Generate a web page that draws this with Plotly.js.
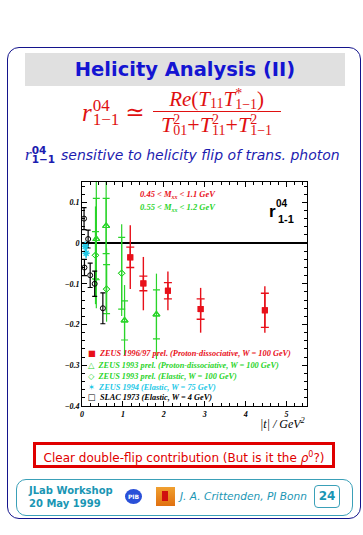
<!DOCTYPE html>
<html><head><meta charset="utf-8">
<script src="https://cdn.plot.ly/plotly-3.0.1.min.js"></script>
<style>
html,body{margin:0;padding:0;background:#fff;width:363px;height:535px;overflow:hidden;position:relative;}
.abs{position:absolute;}
#frame{left:7px;top:47px;width:354px;height:472px;border:1.5px solid #14148c;border-radius:12px;box-sizing:border-box;}
#titlebox{left:25px;top:53px;width:320px;height:33px;background:#e0e0e0;color:#1414d2;font:bold 19.5px 'DejaVu Sans',sans-serif;text-align:center;line-height:33px;}
#formula{left:82px;top:88px;color:#e01010;font-family:'Liberation Serif','DejaVu Serif',serif;display:flex;align-items:center;}
.ss{display:inline-flex;flex-direction:column;vertical-align:middle;}
.frac{display:inline-flex;flex-direction:column;align-items:center;}
#sub{left:25px;top:145px;width:335px;color:#1c1cb0;font:oblique 14px 'DejaVu Sans',sans-serif;white-space:nowrap;display:flex;align-items:center;}
#redbox{left:33px;top:442px;width:302px;height:26px;border:3px solid #e00000;box-sizing:border-box;color:#e00000;font:12px 'DejaVu Sans',sans-serif;text-align:center;line-height:20px;white-space:nowrap;}
#footer{left:16px;top:479px;width:337px;height:37px;border:1.5px solid #3aa0b8;border-radius:10px;box-sizing:border-box;}
.teal{color:#1a96b4;}
#chart{left:0;top:170px;width:363px;height:270px;}
.sm{font-size:14px;line-height:11px;}
</style></head>
<body>
<div id="frame" class="abs"></div>
<div id="titlebox" class="abs">Helicity Analysis (II)</div>
<div id="formula" class="abs">
  <span style="font-style:italic;font-size:25px;line-height:26px;">r</span>
  <span class="ss" style="font-size:17px;line-height:14px;margin-left:1px;"><span>04</span><span>1−1</span></span>
  <span style="font-size:23px;margin:0 8px 0 6px;">≃</span>
  <span class="frac">
    <span style="font-size:21px;line-height:20px;height:22px;display:flex;align-items:center;"><i>Re</i>(<i>T</i><span style="font-size:14px;margin-top:9px;">11</span><i>T</i><span class="ss sm"><span>*</span><span>1−1</span></span>)</span>
    <span style="border-top:1.2px solid #e01010;width:128px;height:0;margin:1px 0;"></span>
    <span style="font-size:22px;line-height:20px;height:24px;display:flex;align-items:center;"><i>T</i><span class="ss sm"><span>2</span><span>01</span></span>+<i>T</i><span class="ss sm"><span>2</span><span>11</span></span>+<i>T</i><span class="ss sm"><span>2</span><span>1−1</span></span></span>
  </span>
</div>
<div id="sub" class="abs"><span style="font-family:'Liberation Serif',serif;font-style:italic;font-size:17px;">r</span><span class="ss" style="font:bold 10.5px 'DejaVu Sans',sans-serif;line-height:9px;margin-right:6px;"><span>04</span><span>1−1</span></span>sensitive to helicity flip of trans. photon</div>
<div id="chart" class="abs"></div>
<div id="redbox" class="abs">Clear double-flip contribution (But is it the <i>ρ</i><sup style="font-size:8px;">0</sup>?)</div>
<div id="footer" class="abs"></div>
<div class="abs teal" style="left:29px;top:484px;font:bold 10px 'DejaVu Sans',sans-serif;line-height:13px;">JLab Workshop<br>20 May 1999</div>
<div class="abs" style="left:125px;top:489px;width:17px;height:15px;border-radius:50%;background:#2a50d8;color:#fff;font:bold 6px 'DejaVu Sans',sans-serif;text-align:center;line-height:15px;">PIB</div>
<div class="abs" style="left:156px;top:487px;width:19px;height:19px;background:linear-gradient(#f0a030,#e07010);"><div style="position:absolute;left:6px;top:4px;width:6px;height:10px;background:#d01010;"></div></div>
<div class="abs teal" style="left:180px;top:490px;font:oblique 10.6px 'DejaVu Sans',sans-serif;">J. A. Crittenden, PI Bonn</div>
<div class="abs teal" style="left:314px;top:485px;width:26px;height:23px;border:1.5px solid #3aa0b8;border-radius:4px;box-sizing:border-box;font:bold 12px 'DejaVu Sans',sans-serif;text-align:center;line-height:20px;">24</div>
<script>
// ZEUS 1996/97 prel. (proton-dissociative)
const redT = [1.18, 1.50, 2.10, 2.90, 4.47];
const redR = [-0.035, -0.099, -0.117, -0.162, -0.165];
const redStat = [0.025, 0.018, 0.020, 0.025, 0.042];
const redTotUp = [0.079, 0.065, 0.047, 0.052, 0.059];
const redTotDn = [0.078, 0.066, 0.048, 0.058, 0.055];
// ZEUS 1993 prel. (proton-dissociative)
const pdT = [0.35, 0.59, 1.04, 1.82];
const pdR = [0.010, 0.042, -0.190, -0.175];
const pdStat = [0.100, 0.068, 0.048, 0.060];
const pdTotUp = [0.25, 0.22, 0.087, 0.100];
const pdTotDn = [0.17, 0.21, 0.085, 0.110];
// ZEUS 1993 prel. (elastic)
const elT = [0.33, 0.60, 0.97];
const elR = [-0.030, -0.113, -0.074];
const elStat = [0.058, 0.060, 0.088];
const elTotUp = [0.12, 0.10, 0.12];
const elTotDn = [0.12, 0.08, 0.105];
// ZEUS 1994 (elastic)
const cyT = [0.08, 0.10];
const cyR = [-0.008, -0.025];
const cyErr = [0.012, 0.012];
// SLAC 1973 (elastic)
const slT = [0.05, 0.06, 0.15, 0.20, 0.31, 0.51];
const slR = [0.060, -0.060, 0.010, -0.079, -0.100, -0.160];
const slErr = [0.027, 0.020, 0.022, 0.030, 0.031, 0.038];

const legendLabels = [
 'ZEUS 1996/97 prel. (Proton-dissociative, W = 100 GeV)',
 'ZEUS 1993 prel. (Proton-dissociative, W = 100 GeV)',
 'ZEUS 1993 prel. (Elastic, W = 100 GeV)',
 'ZEUS 1994 (Elastic, W = 75 GeV)',
 'SLAC 1973 (Elastic, W = 4 GeV)'];
const legendSymbols = ['■','△','◇','✶','□'];
const cRed='#e8101a', cGreen='#2ad42a', cCyan='#22c8e6', cBlack='#000000';
const legendColors = [cRed,cGreen,cGreen,cCyan,cBlack];

function eb(up,dn,w,color,th){return {type:'data',symmetric:false,array:up,arrayminus:dn,width:w,color:color,thickness:th||1.2};}
const traces = [
 {x:pdT,y:pdR,mode:'markers',marker:{symbol:'triangle-up-open',size:6,color:cGreen,line:{width:1.2}},error_y:eb(pdTotUp,pdTotDn,0,cGreen)},
 {x:pdT,y:pdR,mode:'markers',marker:{symbol:'triangle-up-open',size:6,color:cGreen,line:{width:1.2}},error_y:eb(pdStat,pdStat,3.5,cGreen)},
 {x:elT,y:elR,mode:'markers',marker:{symbol:'diamond-open',size:5,color:cGreen,line:{width:1}},error_y:eb(elTotUp,elTotDn,0,cGreen)},
 {x:elT,y:elR,mode:'markers',marker:{symbol:'diamond-open',size:5,color:cGreen,line:{width:1}},error_y:eb(elStat,elStat,3.5,cGreen)},
 {x:redT,y:redR,mode:'markers',marker:{symbol:'square',size:6,color:cRed},error_y:eb(redTotUp,redTotDn,0,cRed,1.4)},
 {x:redT,y:redR,mode:'markers',marker:{symbol:'square',size:6,color:cRed},error_y:eb(redStat,redStat,4,cRed,1.4)},
 {x:slT,y:slR,mode:'markers',marker:{symbol:'circle-open',size:5,color:cBlack,line:{width:1}},error_y:eb(slErr,slErr,2.5,cBlack)},
 {x:cyT,y:cyR,mode:'markers',marker:{symbol:'asterisk-open',size:6,color:cCyan,line:{width:1.5,color:cCyan}},error_y:eb(cyErr,cyErr,0,cCyan,1.5)}
];
traces.forEach(t=>{t.type='scatter';t.showlegend=false;t.hoverinfo='skip';});

const serif='Liberation Serif, DejaVu Serif, serif';
const ann = [];
const legY=[0.237,0.184,0.135,0.086,0.040];
legendLabels.forEach((s,i)=>{
  ann.push({xref:'paper',yref:'paper',x:0.018,y:legY[i],xanchor:'left',yanchor:'middle',showarrow:false,
    text:'<span style="font-family:DejaVu Sans;font-style:normal">'+legendSymbols[i]+'</span>  '+s,
    font:{family:serif,size:8.3,color:legendColors[i],style:'italic',weight:'bold'}});
});
ann.push({xref:'paper',yref:'paper',x:0.249,y:0.942,xanchor:'left',yanchor:'middle',showarrow:false,
  text:'0.45 < M<sub>xx</sub> < 1.1 GeV',font:{family:serif,size:8.5,color:cRed,style:'italic',weight:'bold'}});
ann.push({xref:'paper',yref:'paper',x:0.249,y:0.884,xanchor:'left',yanchor:'middle',showarrow:false,
  text:'0.55 < M<sub>xx</sub> < 1.2 GeV',font:{family:serif,size:8.5,color:cGreen,style:'italic',weight:'bold'}});
ann.push({xref:'paper',yref:'paper',x:0.891,y:0.906,xanchor:'center',yanchor:'middle',showarrow:false,
  text:'04',font:{family:'Liberation Sans, Arial, sans-serif',size:10,color:'#000',weight:'bold'}});
ann.push({xref:'paper',yref:'paper',x:0.845,y:0.870,xanchor:'center',yanchor:'middle',showarrow:false,
  text:'r',font:{family:'Liberation Sans, Arial, sans-serif',size:17,color:'#000',weight:'bold'}});
ann.push({xref:'paper',yref:'paper',x:0.908,y:0.833,xanchor:'center',yanchor:'middle',showarrow:false,
  text:'1-1',font:{family:'Liberation Sans, Arial, sans-serif',size:11,color:'#000',weight:'bold'}});
ann.push({xref:'paper',yref:'paper',x:0.893,y:-0.08,xanchor:'center',yanchor:'middle',showarrow:false,
  text:'|t| / GeV<sup>2</sup>',font:{family:serif,size:12,color:'#000',style:'italic'}});

const tickfont={family:serif,size:8,color:'#000',style:'italic',weight:'bold'};
const layout={
  width:363,height:270,margin:{l:82,r:56,t:12,b:34},
  paper_bgcolor:'rgba(0,0,0,0)',plot_bgcolor:'#fff',
  xaxis:{range:[0,5.5],dtick:1,tick0:0,ticks:'inside',ticklen:5,tickcolor:'#000',showline:true,linecolor:'#000',linewidth:1,mirror:'allticks',
    showgrid:false,zeroline:false,tickfont:tickfont,minor:{dtick:0.2,ticks:'inside',ticklen:3,tickcolor:'#000',showgrid:false}},
  yaxis:{range:[-0.4,0.15],dtick:0.1,tick0:0,ticks:'inside',ticklen:5,tickcolor:'#000',showline:true,linecolor:'#000',linewidth:1,mirror:'allticks',
    showgrid:false,zeroline:true,zerolinecolor:'#000',zerolinewidth:1.2,tickfont:tickfont,
    minor:{dtick:0.02,ticks:'inside',ticklen:3,tickcolor:'#000',showgrid:false}},
  annotations:ann,showlegend:false
};
Plotly.newPlot('chart',traces,layout,{staticPlot:true,displayModeBar:false});
</script>
</body></html>
